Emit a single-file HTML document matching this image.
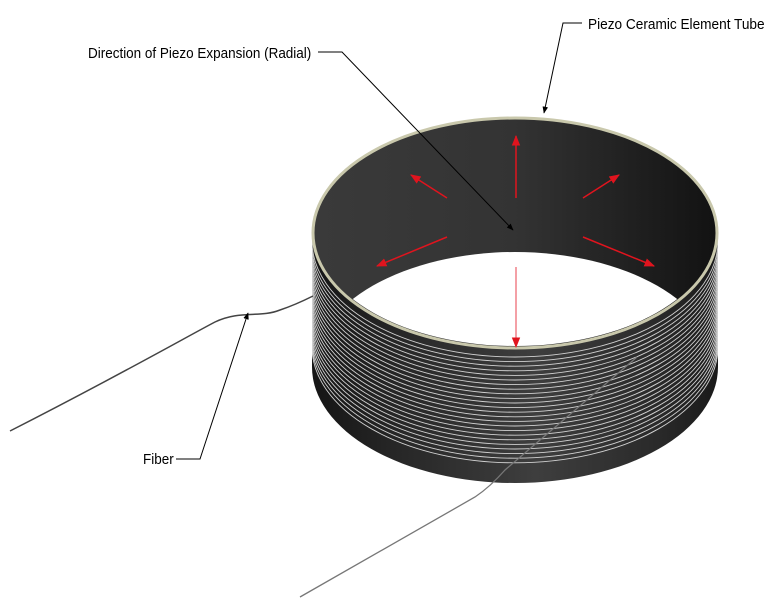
<!DOCTYPE html>
<html><head><meta charset="utf-8"><style>
html,body{margin:0;padding:0;background:#fff;width:780px;height:611px;overflow:hidden}
svg{display:block}
text{font-family:"Liberation Sans",sans-serif;font-size:15px;fill:#000}
</style></head><body>
<svg width="780" height="611" viewBox="0 0 780 611" xmlns="http://www.w3.org/2000/svg">
<defs>
<linearGradient id="outer" x1="312" x2="718" y1="0" y2="0" gradientUnits="userSpaceOnUse">
<stop offset="0" stop-color="#151515"/><stop offset="0.2" stop-color="#262626"/><stop offset="0.55" stop-color="#3e3e3e"/><stop offset="0.85" stop-color="#2a2a2a"/><stop offset="1" stop-color="#1a1a1a"/>
</linearGradient>
<linearGradient id="inner" x1="312" x2="718" y1="0" y2="0" gradientUnits="userSpaceOnUse">
<stop offset="0" stop-color="#3a3a3a"/><stop offset="0.5" stop-color="#333"/><stop offset="1" stop-color="#121212"/>
</linearGradient>
<clipPath id="body"><path d="M312,233 L312,367 A203,116 0 0 0 718,367 L718,233 A203,116 0 0 1 312,233 Z"/></clipPath>
<clipPath id="hole"><ellipse cx="515" cy="367" rx="201" ry="115"/></clipPath>
<marker id="ra" viewBox="0 0 10 10" refX="9" refY="5" markerWidth="7" markerHeight="7" orient="auto"><path d="M0,1 L10,5 L0,9 Z" fill="#e0141e"/></marker>
<marker id="rb" viewBox="0 0 10 10" refX="9" refY="5" markerWidth="7" markerHeight="7" orient="auto"><path d="M0,1 L10,5 L0,9 Z" fill="#e0141e"/></marker>
<marker id="ka" viewBox="0 0 10 10" refX="9" refY="5" markerWidth="7" markerHeight="7" orient="auto"><path d="M0,1 L10,5 L0,9 Z" fill="#000"/></marker>
</defs>
<path d="M312,233 L312,367 A203,116 0 0 0 718,367 L718,233 A203,116 0 0 1 312,233 Z" fill="url(#outer)"/>
<g clip-path="url(#body)" fill="none" stroke="#d0d0d0" stroke-width="0.9">
<path d="M312,241 A203,116 0 0 0 718,241"/><path d="M312,245.6 A203,116 0 0 0 718,245.6"/><path d="M312,250.2 A203,116 0 0 0 718,250.2"/><path d="M312,254.8 A203,116 0 0 0 718,254.8"/><path d="M312,259.4 A203,116 0 0 0 718,259.4"/><path d="M312,264 A203,116 0 0 0 718,264"/><path d="M312,268.6 A203,116 0 0 0 718,268.6"/><path d="M312,273.2 A203,116 0 0 0 718,273.2"/><path d="M312,277.8 A203,116 0 0 0 718,277.8"/><path d="M312,282.4 A203,116 0 0 0 718,282.4"/><path d="M312,287 A203,116 0 0 0 718,287"/><path d="M312,291.6 A203,116 0 0 0 718,291.6"/><path d="M312,296.2 A203,116 0 0 0 718,296.2"/><path d="M312,300.8 A203,116 0 0 0 718,300.8"/><path d="M312,305.4 A203,116 0 0 0 718,305.4"/><path d="M312,310 A203,116 0 0 0 718,310"/><path d="M312,314.6 A203,116 0 0 0 718,314.6"/><path d="M312,319.2 A203,116 0 0 0 718,319.2"/><path d="M312,323.8 A203,116 0 0 0 718,323.8"/><path d="M312,328.4 A203,116 0 0 0 718,328.4"/><path d="M312,333 A203,116 0 0 0 718,333"/><path d="M312,337.6 A203,116 0 0 0 718,337.6"/><path d="M312,342.2 A203,116 0 0 0 718,342.2"/><path d="M312,346.8 A203,116 0 0 0 718,346.8"/>
</g>
<ellipse cx="515" cy="233" rx="202" ry="115" fill="url(#inner)" stroke="#c9c8ac" stroke-width="3"/>
<ellipse cx="515" cy="233" rx="200" ry="113" fill="#fff" clip-path="url(#hole)"/>
<g stroke="#e0141e" stroke-width="1.5" fill="none">
<line x1="516" y1="198" x2="516" y2="136" marker-end="url(#ra)"/>
<line x1="447" y1="198" x2="411" y2="175" marker-end="url(#ra)"/>
<line x1="583" y1="198" x2="619" y2="175" marker-end="url(#ra)"/>
<line x1="447" y1="237" x2="377" y2="266" marker-end="url(#ra)"/>
<line x1="583" y1="237" x2="654" y2="266" marker-end="url(#ra)"/>
<line x1="516" y1="267" x2="516" y2="347" stroke="#f08088" marker-end="url(#rb)"/>
</g>
<path d="M10,431 C120,375 190,335 215,322 C240,310 260,318 280,310 C295,305 305,300 313,296" fill="none" stroke="#444" stroke-width="1.5"/>
<path d="M300,597 L475,497 Q490,487 505,470 L637,357" fill="none" stroke="#777" stroke-width="1.3"/>
<g stroke="#000" stroke-width="1" fill="none">
<polyline points="318,52 342,52 513,230" marker-end="url(#ka)"/>
<polyline points="582,23 563,23 544,113" marker-end="url(#ka)"/>
<polyline points="176,459 200,459 248,313" marker-end="url(#ka)"/>
</g>
<text x="88" y="58" transform="translate(88,0) scale(0.9,1) translate(-88,0)">Direction of Piezo Expansion (Radial)</text>
<text x="588" y="29" transform="translate(588,0) scale(0.91,1) translate(-588,0)">Piezo Ceramic Element Tube</text>
<text x="143" y="464" transform="translate(143,0) scale(0.9,1) translate(-143,0)">Fiber</text>
</svg>
</body></html>
